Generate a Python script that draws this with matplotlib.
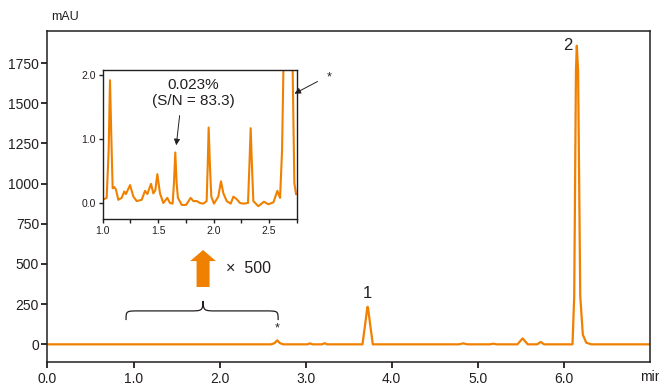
import matplotlib
matplotlib.use('Agg')
import matplotlib.pyplot as plt
from matplotlib.patches import FancyArrow, PathPatch
from matplotlib.path import Path

# main chromatogram (min, mAU)
main_t = [0.0, 2.60, 2.64, 2.67, 2.70, 2.74, 3.02, 3.05, 3.08, 3.19, 3.22, 3.25,
          3.66, 3.69, 3.715, 3.72, 3.725, 3.75, 3.78, 4.78, 4.83, 4.88, 5.14, 5.18, 5.22,
          5.46, 5.52, 5.58, 5.69, 5.73, 5.77, 6.10, 6.12, 6.14, 6.15, 6.165,
          6.19, 6.22, 6.26, 6.32, 7.0]
main_y = [0, 0, 8, 25, 8, 0, 0, 6, 0, 0, 7, 0,
          0, 120, 225, 234, 225, 120, 0, 0, 6, 0, 0, 4, 0,
          0, 37, 0, 0, 15, 0, 0, 300, 1700, 1858, 1700,
          300, 60, 10, 0, 0]

# x500 zoom of 1.0 - 2.75 min
zoom_t = [1.000, 1.036, 1.054, 1.066, 1.081, 1.090, 1.105, 1.120, 1.141, 1.171,
          1.195, 1.210, 1.247, 1.277, 1.307, 1.352, 1.382, 1.403, 1.436, 1.457,
          1.475, 1.493, 1.517, 1.547, 1.583, 1.607, 1.631, 1.643, 1.655, 1.667,
          1.679, 1.713, 1.752, 1.794, 1.818, 1.848, 1.878, 1.908, 1.938, 1.947,
          1.956, 1.968, 1.980, 2.004, 2.043, 2.067, 2.089, 2.119, 2.155, 2.179,
          2.209, 2.239, 2.269, 2.311, 2.323, 2.335, 2.347, 2.359, 2.404, 2.455,
          2.494, 2.540, 2.576, 2.600, 2.618, 2.630, 2.660, 2.714, 2.729, 2.744]
zoom_y = [0.05, 0.08, 0.82, 1.92, 0.82, 0.23, 0.25, 0.21, 0.05, 0.08,
          0.18, 0.14, 0.28, 0.10, 0.03, 0.05, 0.19, 0.14, 0.30, 0.15,
          0.20, 0.45, 0.15, 0.00, 0.08, 0.00, -0.01, 0.31, 0.79, 0.31,
          0.08, -0.03, -0.03, 0.08, 0.03, 0.03, 0.00, -0.01, 0.03, 0.56,
          1.18, 0.56, 0.10, -0.01, 0.10, 0.34, 0.15, 0.03, -0.01, 0.10,
          0.06, 0.00, -0.01, 0.00, 0.56, 1.17, 0.56, 0.03, -0.05, 0.02,
          -0.02, 0.01, 0.19, 0.08, 0.82, 2.05, 5.0, 2.05, 0.31, 0.14]

x_ticks = [0, 1, 2, 3, 4, 5, 6]
y_ticks = [0, 250, 500, 750, 1000, 1250, 1500, 1750]
zoom_xticks = [1.0, 1.5, 2.0, 2.5]
zoom_yticks = [0.0, 1.0, 2.0]

orange = '#F08000'
dark = '#231f20'

plt.rcParams['font.family'] = ['Liberation Sans', 'DejaVu Sans']

fig = plt.figure(figsize=(6.59, 3.85), dpi=100)
ax = fig.add_axes([0.072, 0.0597, 0.9143, 0.8598])
ax.plot(main_t, main_y, color=orange, lw=1.6, solid_joinstyle='round')
ax.set_xlim(0, 7.0)
ax.set_ylim(-110, 1950)
ax.set_xticks(x_ticks)
ax.set_xticklabels(['%.1f' % v for v in x_ticks])
ax.set_yticks(y_ticks)
ax.tick_params(axis='both', direction='out', length=4.5, width=1.3,
               labelsize=10, labelcolor=dark, color=dark)
ax.tick_params(axis='y', pad=1.5)
ax.tick_params(axis='x', pad=2.5)
for s in ax.spines.values():
    s.set_linewidth(1.1)
    s.set_color(dark)

ax.text(0.03, 1.042, 'mAU', transform=ax.transAxes, ha='center', va='center',
        fontsize=9, color=dark)
ax.text(0.983, -0.024, 'min', transform=ax.transAxes, ha='left', va='top',
        fontsize=10, color=dark, clip_on=False)

# peak labels
ax.text(3.72, 318, '1', ha='center', va='center', fontsize=12, color=dark)
ax.text(6.04, 1858, '2', ha='center', va='center', fontsize=12, color=dark)
ax.text(2.67, 60, '*', ha='center', va='bottom', fontsize=9, color=dark)

# brace under the zoom arrow
x0, x1, xc = 0.913, 2.68, 1.808
ye, yh, yt = 151, 208, 270
verts = [(x0, ye), (x0, yh), (x0, yh), (x0 + 0.15, yh),
         (xc - 0.15, yh),
         (xc - 0.02, yh), (xc, yh), (xc, yt),
         (xc, yh), (xc + 0.02, yh), (xc + 0.15, yh),
         (x1 - 0.15, yh),
         (x1, yh), (x1, yh), (x1, ye)]
codes = [Path.MOVETO, Path.CURVE4, Path.CURVE4, Path.CURVE4,
         Path.LINETO,
         Path.CURVE4, Path.CURVE4, Path.CURVE4,
         Path.CURVE4, Path.CURVE4, Path.CURVE4,
         Path.LINETO,
         Path.CURVE4, Path.CURVE4, Path.CURVE4]
ax.add_patch(PathPatch(Path(verts, codes), fill=False, lw=0.9, color=dark))

# big orange arrow and x500
ax.add_patch(FancyArrow(xc, 357, 0, 230, width=0.151, head_width=0.30,
                        head_length=69, length_includes_head=True,
                        color=orange, lw=0))
ax.text(2.08, 470, '\u00d7  500', ha='left', va='center', fontsize=11.5,
        color=dark)

# inset
axin = fig.add_axes([0.1558, 0.4312, 0.2944, 0.387])
axin.plot(zoom_t, zoom_y, color=orange, lw=1.5, solid_joinstyle='round')
axin.set_xlim(1.0, 2.75)
axin.set_ylim(-0.25, 2.08)
axin.set_xticks(zoom_xticks)
axin.set_xticklabels(['%.1f' % v for v in zoom_xticks])
axin.set_xticks([1.25, 1.75, 2.25, 2.75], minor=True)
axin.set_yticks(zoom_yticks)
axin.set_yticklabels(['%.1f' % v for v in zoom_yticks])
axin.tick_params(axis='both', which='both', direction='out', length=3,
                 width=1.0, labelsize=7.5, labelcolor=dark, color=dark, pad=2)
for s in axin.spines.values():
    s.set_linewidth(1.0)
    s.set_color(dark)

axin.text(1.816, 1.72, '0.023%\n(S/N = 83.3)', ha='center', va='center',
          fontsize=11, color=dark, linespacing=1.15)
axin.annotate('', xy=(1.661, 0.86), xytext=(1.697, 1.41),
              arrowprops=dict(arrowstyle='-|>', color=dark, lw=0.7,
                              mutation_scale=9))
axin.annotate('', xy=(2.708, 1.69), xytext=(2.96, 1.92),
              arrowprops=dict(arrowstyle='-|>', color=dark, lw=0.7,
                              mutation_scale=9),
              annotation_clip=False)
axin.text(3.04, 1.97, '*', ha='center', va='center', fontsize=9, color=dark,
          clip_on=False)

fig.savefig('out.png', dpi=100)
